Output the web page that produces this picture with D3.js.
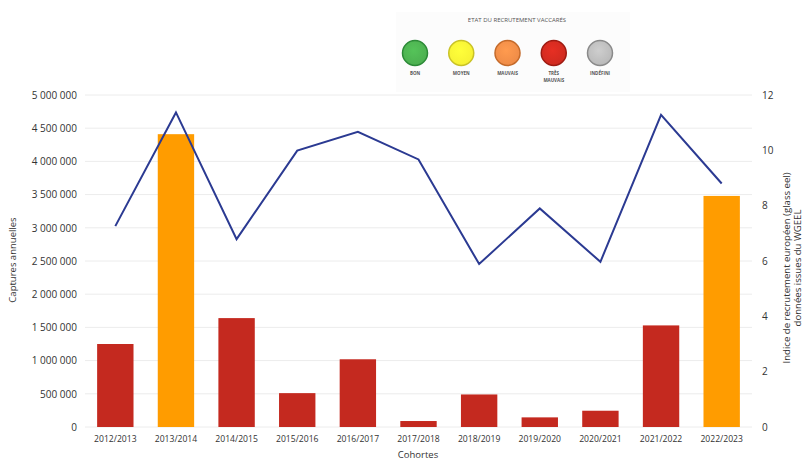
<!DOCTYPE html>
<html>
<head>
<meta charset="utf-8">
<script src="https://cdn.jsdelivr.net/npm/d3@7"></script>
<style>
  body { margin: 0; background: #fff; }
  text { font-family: "Open Sans", sans-serif; fill: #333; }
</style>
</head>
<body>
<script>
var width = 804,
    height = 460;

// données
var cohortes = ["2012/2013", "2013/2014", "2014/2015", "2015/2016", "2016/2017", "2017/2018",
                "2018/2019", "2019/2020", "2020/2021", "2021/2022", "2022/2023"];
var captures = [1250000, 4410000, 1640000, 510000, 1020000, 90000, 490000, 145000, 245000, 1530000, 3480000];
var etat = ["TRÈS MAUVAIS", "MAUVAIS", "TRÈS MAUVAIS", "TRÈS MAUVAIS", "TRÈS MAUVAIS", "TRÈS MAUVAIS",
            "TRÈS MAUVAIS", "TRÈS MAUVAIS", "TRÈS MAUVAIS", "TRÈS MAUVAIS", "MAUVAIS"];
var indice = [7.26, 11.37, 6.79, 9.99, 10.67, 9.67, 5.89, 7.9, 5.97, 11.28, 8.8];
var leftTicks = [0, 500000, 1000000, 1500000, 2000000, 2500000, 3000000, 3500000, 4000000, 4500000, 5000000];
var rightTicks = [0, 2, 4, 6, 8, 10, 12];
var legendLabels = ["BON", "MOYEN", "MAUVAIS", "TRÈS MAUVAIS", "INDÉFINI"];

var legendFill = {"BON": "#4caf50", "MOYEN": "#f6f134", "MAUVAIS": "#ee8b47", "TRÈS MAUVAIS": "#cf2a1f", "INDÉFINI": "#b9b9b9"};
var legendStroke = {"BON": "#2c8a37", "MOYEN": "#c9c226", "MAUVAIS": "#c46a2a", "TRÈS MAUVAIS": "#9e1b12", "INDÉFINI": "#8a8a8a"};
var barColor = {"MAUVAIS": "#ff9c00", "TRÈS MAUVAIS": "#c4291f"};

var svg = d3.select("body").append("svg")
    .attr("width", width)
    .attr("height", height);

var x = d3.scaleBand()
    .domain(cohortes)
    .range([85, 752])
    .paddingInner(0.4)
    .paddingOuter(0.2);
var yL = d3.scaleLinear().domain([0, 5000000]).range([427, 95]);
var yR = d3.scaleLinear().domain([0, 12]).range([427, 95]);

var fmt = function (d) { return d3.format(",")(d).replace(/,/g, " "); };

// grille
svg.append("g")
    .selectAll("line")
    .data(leftTicks)
    .enter().append("line")
    .attr("x1", 85)
    .attr("x2", 752)
    .attr("y1", function (d) { return yL(d); })
    .attr("y2", function (d) { return yL(d); })
    .attr("stroke", "#ececec")
    .attr("stroke-width", 1);

// axe gauche
var axisL = d3.axisLeft(yL).tickValues(leftTicks).tickFormat(fmt).tickSize(0).tickPadding(8);
var gL = svg.append("g").attr("transform", "translate(85,0)").call(axisL);
gL.select(".domain").remove();
gL.selectAll("text").style("font-size", "10px").style("fill", "#333").style("font-family", "Open Sans, sans-serif");

// axe droit
var axisR = d3.axisRight(yR).tickValues(rightTicks).tickSize(0).tickPadding(10);
var gR = svg.append("g").attr("transform", "translate(752,0)").call(axisR);
gR.select(".domain").remove();
gR.selectAll("text").style("font-size", "10px").style("fill", "#333").style("font-family", "Open Sans, sans-serif");

// axe x
var axisX = d3.axisBottom(x).tickSize(0).tickPadding(9);
var gX = svg.append("g").attr("transform", "translate(0,427)").call(axisX);
gX.select(".domain").remove();
gX.selectAll("text").style("font-size", "8.6px").style("fill", "#333").style("font-family", "Open Sans, sans-serif");

// barres
svg.append("g")
    .selectAll("rect")
    .data(cohortes)
    .enter().append("rect")
    .attr("x", function (d) { return x(d); })
    .attr("y", function (d, i) { return yL(captures[i]); })
    .attr("width", x.bandwidth())
    .attr("height", function (d, i) { return yL(0) - yL(captures[i]); })
    .attr("fill", function (d, i) { return barColor[etat[i]]; });

// courbe indice
var line = d3.line()
    .x(function (d, i) { return x(cohortes[i]) + x.bandwidth() / 2; })
    .y(function (d) { return yR(d); });
svg.append("path")
    .attr("d", line(indice))
    .attr("fill", "none")
    .attr("stroke", "#2b3a92")
    .attr("stroke-width", 2);

// titres d'axes
svg.append("text")
    .attr("transform", "translate(16,260) rotate(-90)")
    .attr("text-anchor", "middle")
    .style("font-size", "9.5px")
    .text("Captures annuelles");

svg.append("text")
    .attr("transform", "translate(790,268) rotate(-90)")
    .attr("text-anchor", "middle")
    .style("font-size", "9.6px")
    .text("Indice de recrutement européen (glass eel)");
svg.append("text")
    .attr("transform", "translate(801,268) rotate(-90)")
    .attr("text-anchor", "middle")
    .style("font-size", "9.6px")
    .text("données issues du WGEEL");

svg.append("text")
    .attr("x", 418)
    .attr("y", 458)
    .attr("text-anchor", "middle")
    .style("font-size", "9.5px")
    .text("Cohortes");

// légende
var defs = svg.append("defs");
legendLabels.forEach(function (d, i) {
    var g = defs.append("radialGradient")
        .attr("id", "grad" + i)
        .attr("cx", "45%").attr("cy", "40%").attr("r", "60%");
    g.append("stop").attr("offset", "0%").attr("stop-color", d3.color(legendFill[d]).brighter(0.3));
    g.append("stop").attr("offset", "100%").attr("stop-color", legendFill[d]);
});

var leg = svg.append("g");
leg.append("rect")
    .attr("x", 396).attr("y", 12)
    .attr("width", 234).attr("height", 80)
    .attr("fill", "#fcfcfc");
leg.append("text")
    .attr("x", 517).attr("y", 22)
    .attr("text-anchor", "middle")
    .style("font-size", "6px")
    .style("fill", "#555")
    .text("ETAT DU RECRUTEMENT VACCARÉS");

var lx = d3.scalePoint().domain(legendLabels).range([415, 600]);
var items = leg.selectAll("g.item")
    .data(legendLabels)
    .enter().append("g")
    .attr("class", "item")
    .attr("transform", function (d) { return "translate(" + lx(d) + ",53)"; });
items.append("circle")
    .attr("r", 12.5)
    .attr("fill", function (d, i) { return "url(#grad" + i + ")"; })
    .attr("stroke", function (d) { return legendStroke[d]; })
    .attr("stroke-width", 1.5);
items.each(function (d) {
    var words = d === "TRÈS MAUVAIS" ? ["TRÈS", "MAUVAIS"] : [d];
    var t = d3.select(this);
    words.forEach(function (w, j) {
        t.append("text")
            .attr("y", 22 + j * 7)
            .attr("text-anchor", "middle")
            .style("font-size", "4.5px")
            .style("font-weight", "bold")
            .style("fill", "#555")
            .text(w);
    });
});
</script>
</body>
</html>
